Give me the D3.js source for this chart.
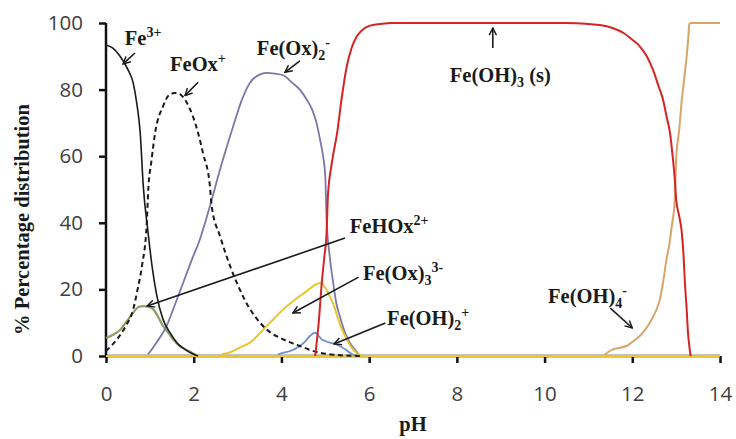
<!DOCTYPE html>
<html>
<head>
<meta charset="utf-8">
<script src="https://cdn.jsdelivr.net/npm/d3@7"></script>
<style>
  body { margin: 0; background: #fff; }
  svg { display: block; }
  .tick-label { font-family: "Open Sans", "Liberation Sans", sans-serif; font-size: 20.5px; fill: #404040; }
  .note { font-family: "Liberation Serif", "DejaVu Serif", serif; font-weight: bold; font-size: 20.5px; fill: #1a1a1a; }
</style>
</head>
<body>
<svg id="chart" width="736" height="439"></svg>
<script>
// species curves: [pH, %]
const fe3 = [[0,93.4],[0.15,92.5],[0.32,90],[0.5,86],[0.62,82],[0.7,76],[0.78,67],[0.85,51],[0.96,37],[1.05,27],[1.16,18],[1.3,11],[1.46,7],[1.65,3.5],[1.8,2],[1.95,0.8],[2.1,0]];
const feOx = [[0,1.5],[0.25,5],[0.45,9],[0.62,14],[0.72,20],[0.82,27],[0.93,40],[0.96,49],[1.04,59],[1.12,67],[1.3,75],[1.45,78.5],[1.57,79],[1.7,78.5],[1.8,77],[1.98,72],[2.1,67],[2.21,61],[2.37,51],[2.41,45],[2.6,36],[2.83,27],[3.05,20],[3.24,15],[3.45,11],[3.66,8],[4.04,5],[4.42,3],[4.8,1.2],[5.18,0.4],[5.8,0]];
const feOx2 = [[0.96,0.5],[1.15,4],[1.38,9],[1.56,15],[1.76,22],[1.96,29],[2.14,35],[2.37,45],[2.6,56],[2.9,69],[3.1,77],[3.28,82],[3.5,84.5],[3.66,85],[3.85,84.8],[4.04,84.3],[4.25,82],[4.42,80],[4.6,76.5],[4.7,74],[4.8,70],[4.88,65],[4.95,60],[5.0,54],[5.03,41],[5.1,30],[5.18,22],[5.25,16],[5.33,12],[5.45,7],[5.56,4],[5.7,1.5],[5.8,0]];
const feHOx = [[0,5.4],[0.15,6.3],[0.32,7.8],[0.48,10.5],[0.62,13],[0.75,14.8],[0.85,15],[0.97,14.8],[1.08,14],[1.2,11.5],[1.3,9],[1.42,7],[1.53,5],[1.68,3],[1.84,1.8],[2.05,0.3]];
const feOx3 = [[2.64,0.5],[2.85,1.2],[3.05,2.5],[3.28,4],[3.45,6],[3.66,9],[3.85,11.5],[4.04,14],[4.22,16],[4.42,18],[4.6,19.7],[4.72,21],[4.82,21.7],[4.9,22],[5.0,20.5],[5.1,18],[5.2,15],[5.27,12],[5.38,8],[5.49,5],[5.6,2.5],[5.72,0.8],[5.85,0]];
const feOH2 = [[3.92,0.5],[4.05,1],[4.2,1.5],[4.42,3],[4.55,4.5],[4.65,6],[4.77,7],[4.85,6],[4.92,5],[5.0,4.5],[5.1,4],[5.2,3.7],[5.33,3],[5.45,2],[5.56,1],[5.7,0]];
const feOH3 = [[4.77,0],[4.85,10],[4.92,22],[4.98,30],[5.03,37],[5.06,48],[5.15,58],[5.27,67],[5.38,78],[5.49,87],[5.6,92.5],[5.72,96],[5.85,98],[6.02,99.2],[6.3,99.8],[6.5,100],[10.5,100],[11.0,99.7],[11.26,99.4],[11.55,98.5],[11.8,97],[12.0,95],[12.17,93],[12.33,90],[12.47,86],[12.6,81],[12.7,77],[12.78,72],[12.86,67],[12.92,60],[12.97,53],[13.0,47],[13.07,42],[13.13,37],[13.17,30],[13.2,22],[13.24,14],[13.27,7],[13.3,3],[13.33,0]];
const feOH4 = [[0,0],[11.33,0],[11.45,1.2],[11.56,2],[11.72,2.5],[11.87,3],[12.03,4.5],[12.17,6],[12.3,8],[12.4,10],[12.52,13],[12.63,17],[12.7,22],[12.78,29],[12.85,34],[12.9,39],[12.97,47],[13.0,59],[13.07,68],[13.13,77],[13.19,84],[13.24,90],[13.28,96],[13.3,99.7],[13.35,100],[14,100]];
const feOx3Zero = [[0,0],[2.64,0],[5.85,0],[14,0]];

const xTicks = [0, 2, 4, 6, 8, 10, 12, 14];
const yTicks = [0, 20, 40, 60, 80, 100];

// series drawing order and colours
const series = [
  { name: "FeOH4", pts: feOH4, color: "#d8a468", dash: null, w: 2 },
  { name: "FeOx3zero", pts: feOx3Zero, color: "#e9c52e", dash: null, w: 2 },
  { name: "FeHOx", pts: feHOx, color: "#8e9f62", dash: null, w: 2.2 },
  { name: "FeOx2", pts: feOx2, color: "#7a78a8", dash: null, w: 1.8 },
  { name: "FeOx3", pts: feOx3, color: "#e9c52e", dash: null, w: 2 },
  { name: "FeOH2", pts: feOH2, color: "#6d8fcc", dash: null, w: 1.8 },
  { name: "FeOx", pts: feOx, color: "#1a1a1a", dash: "5,3.5", w: 2 },
  { name: "Fe3", pts: fe3, color: "#1a1a1a", dash: null, w: 1.6 },
  { name: "FeOH3", pts: feOH3, color: "#d42424", dash: null, w: 2 }
];

// annotations: label parts [text, kind], text anchor (pH, %), arrow from -> to (pH, %)
const notes = [
  { parts: [["Fe", null], ["3+", "sup"]], at: [0.43, 93.4], from: [0.66, 91], to: [0.39, 87.7] },
  { parts: [["FeOx", null], ["+", "sup"]], at: [1.46, 85.6], from: [2.1, 82.2], to: [1.8, 78.2] },
  { parts: [["Fe(Ox)", null], ["2", "sub"], ["-", "sup"]], at: [3.44, 90.4], from: [4.42, 88.6], to: [4.08, 85.2] },
  { parts: [["Fe(OH)", null], ["3", "sub"], [" (s)", null]], at: [7.84, 82.2], from: [8.82, 92.5], to: [8.82, 98.5] },
  { parts: [["FeHOx", null], ["2+", "sup"]], at: [5.56, 36.9], from: [5.45, 35.4], to: [0.94, 15.0] },
  { parts: [["Fe(Ox)", null], ["3", "sub"], ["3-", "sup"]], at: [5.86, 22.8], from: [5.76, 23.7], to: [4.26, 12.9] },
  { parts: [["Fe(OH)", null], ["2", "sub"], ["+", "sup"]], at: [6.41, 9.3], from: [6.37, 9.9], to: [5.2, 3.6] },
  { parts: [["Fe(OH)", null], ["4", "sub"], ["-", "sup"]], at: [10.08, 15.9], from: [11.5, 14.4], to: [12.0, 8.4] }
];

const svg = d3.select("#chart");
const margin = { left: 106, right: 16, top: 23, bottom: 83 };
const W = 736, H = 439;

const x = d3.scaleLinear().domain([0, 14]).range([margin.left, W - margin.right]);
const y = d3.scaleLinear().domain([0, 100]).range([H - margin.bottom, margin.top]);

svg.append("defs").append("marker")
  .attr("id", "arrow")
  .attr("viewBox", "0 0 10 10")
  .attr("refX", 9).attr("refY", 5)
  .attr("markerWidth", 9).attr("markerHeight", 9)
  .attr("markerUnits", "userSpaceOnUse")
  .attr("orient", "auto")
  .append("path")
  .attr("d", "M1,1 L9,5 L1,9")
  .attr("fill", "none")
  .attr("stroke", "#1a1a1a")
  .attr("stroke-width", 1.6);

// axes
const yAxis = svg.append("g").attr("transform", `translate(${x(0)},0)`)
  .call(d3.axisLeft(y).tickValues(yTicks).tickSize(7).tickPadding(16));
const xAxis = svg.append("g").attr("transform", `translate(0,${y(0)})`)
  .call(d3.axisBottom(x).tickValues(xTicks).tickSize(7).tickPadding(23));

[yAxis, xAxis].forEach(g => {
  g.select(".domain").attr("stroke", "#111").attr("stroke-width", 2.5);
  g.selectAll(".tick line").attr("stroke", "#111").attr("stroke-width", 2.5);
  g.selectAll(".tick text").attr("class", "tick-label").attr("font-size", null).attr("font-family", null);
});
yAxis.select(".domain").attr("d", `M0,${y(100)}V${y(0)}`);
xAxis.select(".domain").attr("d", `M${x(0)},0H${x(14)}`);

// curves
const line = d3.line().x(d => x(d[0])).y(d => y(d[1])).curve(d3.curveMonotoneX);
svg.append("g").selectAll("path")
  .data(series)
  .join("path")
  .attr("d", d => line(d.pts))
  .attr("fill", "none")
  .attr("stroke", d => d.color)
  .attr("stroke-width", d => d.w)
  .attr("stroke-dasharray", d => d.dash)
  .attr("stroke-linejoin", "round");

// axis titles
svg.append("text")
  .attr("class", "note")
  .attr("font-size", 23)
  .attr("text-anchor", "middle")
  .attr("transform", `translate(29,${(y(0) + y(100)) / 2 + 30}) rotate(-90)`)
  .text("% Percentage distribution");

svg.append("text")
  .attr("class", "note")
  .attr("font-size", 23)
  .attr("text-anchor", "middle")
  .attr("x", x(7)).attr("y", 431)
  .text("pH");

// annotations
const ng = svg.append("g");
notes.forEach(n => {
  const t = ng.append("text").attr("class", "note").attr("x", x(n.at[0])).attr("y", y(n.at[1]));
  let shift = 0;
  n.parts.forEach(([s, kind]) => {
    const target = kind === "sup" ? -8 : kind === "sub" ? 5 : 0;
    const sp = t.append("tspan").attr("dy", target - shift).text(s);
    if (kind) sp.attr("font-size", 14);
    shift = target;
  });
  ng.append("line")
    .attr("x1", x(n.from[0])).attr("y1", y(n.from[1]))
    .attr("x2", x(n.to[0])).attr("y2", y(n.to[1]))
    .attr("stroke", "#1a1a1a").attr("stroke-width", 1.6)
    .attr("marker-end", "url(#arrow)");
});
</script>
</body>
</html>
